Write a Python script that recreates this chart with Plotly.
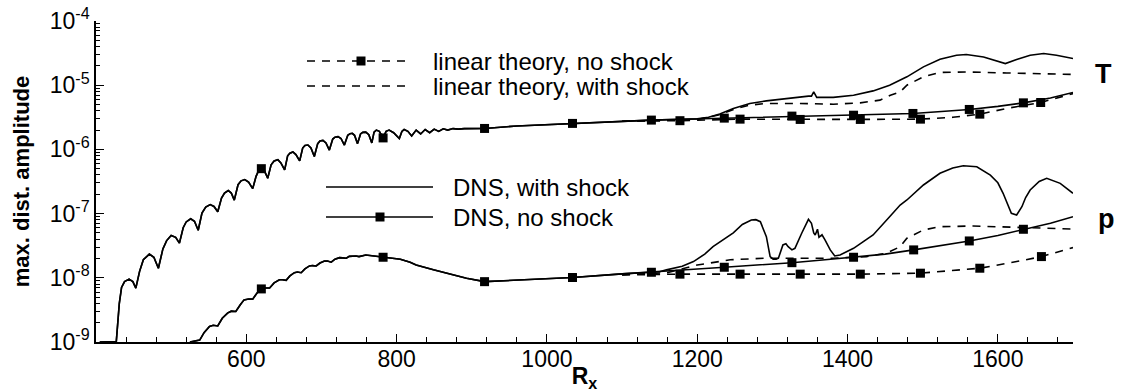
import plotly.graph_objects as go

FONT = "Liberation Sans, Arial, Helvetica, sans-serif"

# ------------------------------------------------------------------
# DATA
# ------------------------------------------------------------------
# Temperature disturbance T, DNS part common to both cases (Rx <= 1200)
Rx_T_common = [405, 427, 431, 434, 438, 444, 449, 453, 458, 463, 471, 477, 483, 489, 494, 500,
               506, 511, 516, 520, 526, 531, 536, 541, 546, 552, 557, 562, 567, 571, 576, 580,
               584, 589, 593, 598, 603, 608.5, 613, 616, 620, 624, 628.5, 633, 637, 642, 646,
               651, 655, 658, 662, 666, 671, 675, 678, 682, 686, 690.5, 695, 698, 702, 706,
               710.5, 715, 718, 722, 726, 730.5, 735, 738, 741, 744, 748, 752, 755, 759, 763,
               767, 770, 773, 777, 782, 786, 790, 796, 803.6, 807, 810, 815, 820, 826, 832,
               838, 844, 850, 856, 862, 868, 875, 882, 890, 917, 960, 1034, 1100, 1139, 1180, 1200]
T_common = [1.00e-9, 1.02e-9, 3.98e-9, 7.08e-9, 8.71e-9, 9.55e-9, 8.71e-9, 6.92e-9, 1.26e-8,
            1.91e-8, 2.34e-8, 2.09e-8, 1.41e-8, 2.82e-8, 3.80e-8, 4.57e-8, 4.27e-8, 3.47e-8,
            6.03e-8, 7.41e-8, 8.32e-8, 7.59e-8, 5.50e-8, 1.02e-7, 1.26e-7, 1.38e-7, 1.29e-7,
            1.07e-7, 1.74e-7, 2.09e-7, 2.29e-7, 2.09e-7, 1.62e-7, 2.82e-7, 3.24e-7, 3.39e-7,
            3.09e-7, 2.45e-7, 3.80e-7, 4.57e-7, 5.01e-7, 4.68e-7, 3.55e-7, 5.75e-7, 6.61e-7,
            6.92e-7, 6.17e-7, 4.79e-7, 7.94e-7, 8.71e-7, 9.12e-7, 8.32e-7, 6.61e-7, 1.05e-6,
            1.15e-6, 1.17e-6, 1.05e-6, 7.76e-7, 1.23e-6, 1.35e-6, 1.38e-6, 1.26e-6, 9.77e-7,
            1.45e-6, 1.55e-6, 1.58e-6, 1.48e-6, 1.17e-6, 1.66e-6, 1.76e-6, 1.78e-6, 1.66e-6,
            1.23e-6, 1.74e-6, 1.84e-6, 1.86e-6, 1.70e-6, 1.26e-6, 1.86e-6, 2.00e-6, 1.91e-6,
            1.51e-6, 1.91e-6, 2.00e-6, 1.82e-6, 1.48e-6, 1.91e-6, 2.04e-6, 1.91e-6, 1.62e-6,
            2.00e-6, 1.74e-6, 2.04e-6, 1.82e-6, 2.07e-6, 1.91e-6, 2.09e-6, 2.00e-6, 2.11e-6,
            2.07e-6, 2.11e-6, 2.12e-6, 2.32e-6, 2.54e-6, 2.75e-6, 2.86e-6, 2.95e-6, 2.99e-6]

# T, DNS without shock (continuation beyond Rx = 1200)
Rx_T_dns_noshock_tail = [1236, 1280, 1326, 1370, 1408, 1450, 1487, 1525, 1562, 1600, 1634, 1670, 1700]
T_dns_noshock_tail = [3.07e-6, 3.16e-6, 3.30e-6, 3.35e-6, 3.41e-6, 3.51e-6, 3.63e-6, 3.89e-6,
                      4.19e-6, 4.68e-6, 5.31e-6, 6.31e-6, 7.71e-6]

# T, DNS with shock (continuation beyond Rx = 1200)
Rx_T_dns_shock_tail = [1215, 1230, 1248, 1270, 1292, 1323, 1348, 1352, 1355, 1359, 1381, 1408,
                       1434, 1456, 1479, 1501, 1523, 1545, 1558, 1581, 1598, 1610, 1625, 1643,
                       1661, 1678, 1700]
T_dns_shock_tail = [3.16e-6, 3.55e-6, 4.35e-6, 5.19e-6, 5.70e-6, 6.35e-6, 6.75e-6, 6.76e-6,
                    7.87e-6, 6.46e-6, 6.46e-6, 6.98e-6, 8.15e-6, 1.00e-5, 1.35e-5, 1.93e-5,
                    2.54e-5, 2.93e-5, 3.00e-5, 2.75e-5, 2.36e-5, 2.17e-5, 2.51e-5, 2.93e-5,
                    3.11e-5, 2.93e-5, 2.60e-5]

# T, linear theory
Rx_T_lin_noshock = [1100, 1177, 1257, 1337, 1417, 1497, 1540, 1576, 1612, 1657, 1700]
T_lin_noshock = [2.75e-6, 2.80e-6, 2.96e-6, 2.93e-6, 2.93e-6, 2.96e-6, 3.16e-6, 3.54e-6,
                 4.35e-6, 5.38e-6, 7.41e-6]
Rx_T_lin_shock = [1100, 1200, 1230, 1250, 1270, 1292, 1337, 1381, 1417, 1443, 1457, 1470,
                  1479, 1501, 1523, 1558, 1612, 1656, 1700]
T_lin_shock = [2.75e-6, 2.92e-6, 3.47e-6, 4.27e-6, 4.90e-6, 5.19e-6, 5.19e-6, 5.06e-6,
               5.31e-6, 5.85e-6, 6.98e-6, 7.87e-6, 1.00e-5, 1.35e-5, 1.58e-5, 1.61e-5,
               1.55e-5, 1.52e-5, 1.47e-5]

# T, symbol positions
Rx_T_dns_marks = [620, 782, 917, 1034, 1139, 1236, 1326, 1408, 1487, 1562, 1634]
T_dns_marks = [5.01e-7, 1.51e-6, 2.12e-6, 2.54e-6, 2.86e-6, 3.07e-6, 3.30e-6, 3.41e-6,
               3.63e-6, 4.19e-6, 5.31e-6]
Rx_T_lin_marks = [1177, 1257, 1337, 1417, 1497, 1576, 1657]
T_lin_marks = [2.80e-6, 2.96e-6, 2.93e-6, 2.93e-6, 2.96e-6, 3.54e-6, 5.38e-6]

# Pressure disturbance p, DNS part common to both cases (Rx <= 1150)
Rx_p_common = [525, 538, 544, 551, 556, 562, 568, 575, 580, 586, 592, 597, 603, 608.5, 614,
               620, 625, 631, 637, 644, 648, 653, 658, 664, 668, 673, 678, 684, 688, 693, 698,
               704, 708, 713, 718, 724, 728, 733, 737, 742, 746, 750, 755, 759, 770, 782, 795,
               805, 818, 826, 849, 893, 917, 1034, 1100, 1139, 1150]
p_common = [1.00e-9, 1.07e-9, 1.41e-9, 1.74e-9, 1.82e-9, 1.78e-9, 2.34e-9, 2.82e-9, 3.02e-9,
            2.99e-9, 3.80e-9, 4.53e-9, 4.68e-9, 4.65e-9, 5.75e-9, 6.71e-9, 6.92e-9, 6.92e-9,
            8.32e-9, 9.33e-9, 9.33e-9, 9.12e-9, 1.07e-8, 1.20e-8, 1.23e-8, 1.20e-8, 1.38e-8,
            1.53e-8, 1.55e-8, 1.53e-8, 1.70e-8, 1.83e-8, 1.82e-8, 1.75e-8, 1.95e-8, 2.06e-8,
            2.04e-8, 2.02e-8, 2.16e-8, 2.21e-8, 2.19e-8, 2.14e-8, 2.24e-8, 2.27e-8, 2.19e-8,
            2.09e-8, 2.02e-8, 1.95e-8, 1.74e-8, 1.58e-8, 1.33e-8, 9.86e-9, 8.71e-9, 1.01e-8,
            1.15e-8, 1.22e-8, 1.24e-8]

# p, DNS without shock (continuation)
Rx_p_dns_noshock_tail = [1190, 1236, 1280, 1326, 1370, 1408, 1450, 1488, 1525, 1562, 1600, 1634, 1670, 1700]
p_dns_noshock_tail = [1.35e-8, 1.46e-8, 1.58e-8, 1.72e-8, 1.91e-8, 2.09e-8, 2.34e-8, 2.72e-8,
                      3.16e-8, 3.75e-8, 4.57e-8, 5.70e-8, 7.08e-8, 8.95e-8]

# p, DNS with shock (continuation)
Rx_p_dns_shock_tail = [1159, 1180, 1195, 1210, 1221, 1235, 1248, 1260, 1272, 1278, 1284, 1292,
                       1297, 1301, 1305, 1308, 1314, 1318, 1321, 1326, 1330, 1339, 1345, 1348,
                       1352, 1355, 1357, 1360, 1362, 1366, 1370, 1377, 1383, 1390, 1408, 1434,
                       1456, 1470, 1479, 1501, 1523, 1540, 1554, 1572, 1590, 1600, 1607, 1613,
                       1618, 1625, 1632, 1637, 1643, 1655, 1665, 1683, 1700]
p_dns_shock_tail = [1.33e-8, 1.51e-8, 1.79e-8, 2.34e-8, 3.05e-8, 3.98e-8, 5.01e-8, 6.76e-8,
                    7.94e-8, 8.04e-8, 7.48e-8, 4.37e-8, 2.14e-8, 1.95e-8, 1.95e-8, 2.02e-8,
                    3.25e-8, 3.39e-8, 3.05e-8, 2.72e-8, 2.88e-8, 4.94e-8, 7.08e-8, 8.15e-8,
                    7.08e-8, 5.01e-8, 4.65e-8, 5.70e-8, 4.28e-8, 4.68e-8, 3.89e-8, 2.72e-8,
                    2.19e-8, 2.27e-8, 2.88e-8, 4.65e-8, 8.95e-8, 1.36e-7, 1.63e-7, 2.79e-7,
                    4.24e-7, 5.13e-7, 5.56e-7, 5.37e-7, 3.98e-7, 3.02e-7, 2.07e-7, 1.41e-7,
                    1.01e-7, 9.51e-8, 1.28e-7, 1.78e-7, 2.33e-7, 3.16e-7, 3.54e-7, 2.96e-7,
                    2.07e-7]

# p, linear theory
Rx_p_lin_noshock = [1100, 1177, 1257, 1337, 1417, 1497, 1532, 1576, 1625, 1658, 1700]
p_lin_noshock = [1.11e-8, 1.14e-8, 1.14e-8, 1.14e-8, 1.14e-8, 1.18e-8, 1.29e-8, 1.41e-8,
                 1.79e-8, 2.14e-8, 2.95e-8]
Rx_p_lin_shock = [1100, 1160, 1200, 1244, 1292, 1381, 1425, 1452, 1470, 1479, 1501, 1523,
                  1567, 1634, 1700]
p_lin_shock = [1.11e-8, 1.20e-8, 1.58e-8, 1.91e-8, 2.02e-8, 2.02e-8, 2.14e-8, 2.42e-8,
               3.05e-8, 4.13e-8, 5.56e-8, 6.25e-8, 6.41e-8, 6.12e-8, 5.75e-8]

# p, symbol positions
Rx_p_dns_marks = [620, 782, 917, 1034, 1139, 1236, 1326, 1408, 1488, 1562, 1634]
p_dns_marks = [6.71e-9, 2.09e-8, 8.71e-9, 1.01e-8, 1.22e-8, 1.46e-8, 1.72e-8, 2.09e-8,
               2.72e-8, 3.75e-8, 5.70e-8]
Rx_p_lin_marks = [1177, 1257, 1337, 1417, 1497, 1576, 1658]
p_lin_marks = [1.14e-8, 1.14e-8, 1.14e-8, 1.14e-8, 1.18e-8, 1.41e-8, 2.14e-8]

# Axis ticks and labels
x_major_ticks = [600, 800, 1000, 1200, 1400, 1600]
y_major_ticks = [1e-9, 1e-8, 1e-7, 1e-6, 1e-5, 1e-4]
y_tick_labels = ["10<sup>-9</sup>", "10<sup>-8</sup>", "10<sup>-7</sup>",
                 "10<sup>-6</sup>", "10<sup>-5</sup>", "10<sup>-4</sup>"]
legend_labels = ["linear theory, no shock", "linear theory, with shock",
                 "DNS, with shock", "DNS, no shock"]
curve_labels = ["T", "p"]

# ------------------------------------------------------------------
# FIGURE
# ------------------------------------------------------------------
LW = 1.6
DASH = "8px,7px"
MSIZE = 9
fig = go.Figure()


def add_line(x, y, dash=None):
    fig.add_trace(go.Scatter(x=x, y=y, mode="lines", showlegend=False, hoverinfo="skip",
                             line=dict(color="black", width=LW, dash=dash)))


def add_marks(x, y):
    fig.add_trace(go.Scatter(x=x, y=y, mode="markers", showlegend=False, hoverinfo="skip",
                             marker=dict(symbol="square", size=MSIZE, color="black",
                                         line=dict(width=0))))


# T curves
add_line(Rx_T_lin_noshock, T_lin_noshock, DASH)
add_line(Rx_T_lin_shock, T_lin_shock, DASH)
add_line(Rx_T_common + Rx_T_dns_shock_tail, T_common + T_dns_shock_tail)
add_line(Rx_T_common + Rx_T_dns_noshock_tail, T_common + T_dns_noshock_tail)
add_marks(Rx_T_dns_marks, T_dns_marks)
add_marks(Rx_T_lin_marks, T_lin_marks)

# p curves
add_line(Rx_p_lin_noshock, p_lin_noshock, DASH)
add_line(Rx_p_lin_shock, p_lin_shock, DASH)
add_line(Rx_p_common + Rx_p_dns_shock_tail, p_common + p_dns_shock_tail)
add_line(Rx_p_common + Rx_p_dns_noshock_tail, p_common + p_dns_noshock_tail)
add_marks(Rx_p_dns_marks, p_dns_marks)
add_marks(Rx_p_lin_marks, p_lin_marks)

# ---- hand-made legend (paper coordinates) ----
L, T_, R_, B_ = 96, 21, 1073, 342
W, H = R_ - L, B_ - T_


def px(xp):
    return (xp - L) / W


def py(yp):
    return (B_ - yp) / H


legend_rows = [  # (line x0, line x1, y, dashed, marker x, text x, label)
    (307, 410, 61, True, 361, 433, legend_labels[0]),
    (307, 410, 86, True, None, 433, legend_labels[1]),
    (326, 433, 187, False, None, 453, legend_labels[2]),
    (326, 433, 217, False, 380, 453, legend_labels[3]),
]
shapes = []
annotations = []
for x0, x1, yy, dashed, mx, tx, lab in legend_rows:
    shapes.append(dict(type="line", xref="paper", yref="paper", x0=px(x0), x1=px(x1),
                       y0=py(yy), y1=py(yy),
                       line=dict(color="black", width=LW, dash=DASH if dashed else "solid")))
    if mx is not None:
        shapes.append(dict(type="rect", xref="paper", yref="paper", xsizemode="pixel",
                           ysizemode="pixel", xanchor=px(mx), yanchor=py(yy),
                           x0=-4.5, x1=4.5, y0=-4.5, y1=4.5,
                           fillcolor="black", line=dict(width=0)))
    annotations.append(dict(xref="paper", yref="paper", x=px(tx - 2), y=py(yy), text=lab,
                            showarrow=False, xanchor="left", yanchor="middle",
                            font=dict(family=FONT, size=24, color="black")))

# curve labels T and p
annotations.append(dict(xref="paper", yref="paper", x=px(1103), y=py(74), text=curve_labels[0],
                        showarrow=False, xanchor="center", yanchor="middle",
                        font=dict(family=FONT, size=27, color="black", weight="bold")))
annotations.append(dict(xref="paper", yref="paper", x=px(1106), y=py(219), text=curve_labels[1],
                        showarrow=False, xanchor="center", yanchor="middle",
                        font=dict(family=FONT, size=27, color="black", weight="bold")))

fig.update_layout(
    template="none",
    width=1123, height=392,
    margin=dict(l=L, r=1123 - R_, t=T_, b=392 - B_, pad=0),
    paper_bgcolor="white", plot_bgcolor="white",
    font=dict(family=FONT, color="black"),
    shapes=shapes, annotations=annotations,
    showlegend=False,
)
fig.update_xaxes(
    automargin=False,
    range=[400, 1700], showgrid=False, zeroline=False,
    showline=True, linecolor="black", linewidth=1.5, mirror=False,
    tickmode="array", tickvals=x_major_ticks,
    ticks="inside", ticklen=8, tickwidth=1.2, tickcolor="black",
    ticklabelstandoff=-4,
    tickfont=dict(family=FONT, size=23, color="black"),
    minor=dict(tickmode="linear", tick0=400, dtick=40, ticks="inside", ticklen=5,
               tickwidth=1, tickcolor="black", showgrid=False),
    title=dict(text="<b>R<sub>x</sub></b>", standoff=0,
               font=dict(family=FONT, size=23, color="black")),
)
fig.update_yaxes(
    automargin=False,
    type="log", range=[-9, -4], showgrid=False, zeroline=False,
    showline=True, linecolor="black", linewidth=1.5, mirror=False,
    tickmode="array", tickvals=y_major_ticks, ticktext=y_tick_labels,
    ticks="inside", ticklen=8, tickwidth=1.2, tickcolor="black",
    tickfont=dict(family=FONT, size=23, color="black"),
    minor=dict(tickmode="array",
               tickvals=[m * d for d in [1e-9, 1e-8, 1e-7, 1e-6, 1e-5] for m in range(2, 10)],
               ticks="inside", ticklen=4, tickwidth=1, tickcolor="black", showgrid=False),
    title=dict(text="max. dist. amplitude", standoff=14,
               font=dict(family=FONT, size=22, color="black", weight="bold")),
)

fig.write_html("out.html")
